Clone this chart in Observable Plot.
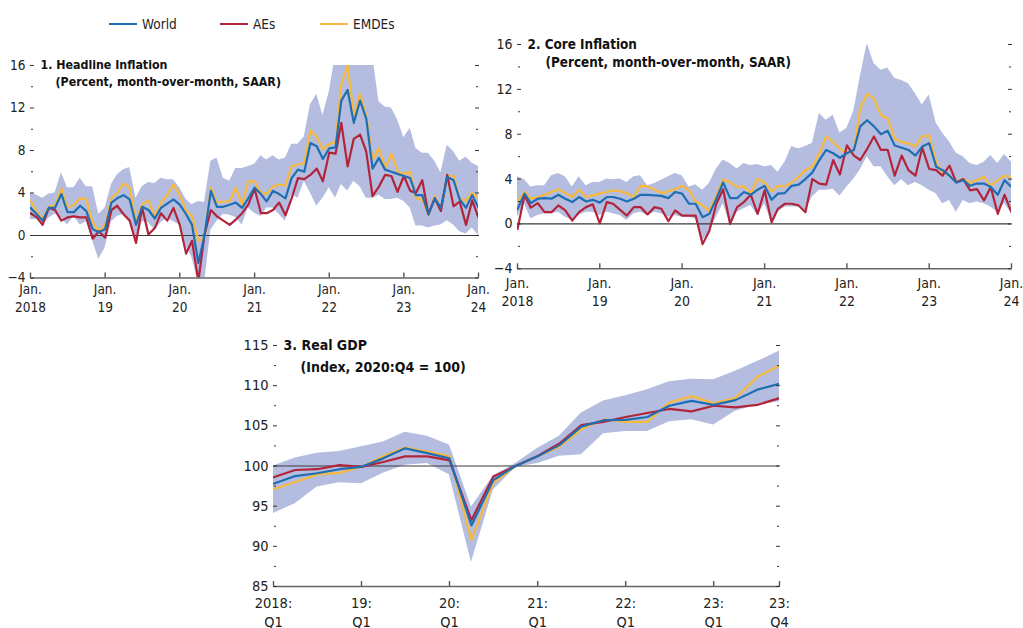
<!DOCTYPE html>
<html>
<head>
<meta charset="utf-8">
<script src="https://cdn.jsdelivr.net/npm/d3@7"></script>
<script src="https://cdn.jsdelivr.net/npm/@observablehq/plot@0.6"></script>
<style>
  html, body { margin: 0; padding: 0; background: #fff; }
  body { width: 1023px; height: 628px; overflow: hidden; position: relative;
         font-family: "Liberation Sans Narrow", "Arial Narrow", "DejaVu Sans Condensed", sans-serif; color: #222; }
  .panel { position: absolute; }
  .lg { position: absolute; top: 16px; display: flex; align-items: center; font-size: 13.5px; }
  .lg span.sw { display: inline-block; width: 28px; height: 2.5px; margin-right: 5px; }
</style>
</head>
<body>
<div class="lg" style="left:109px"><span class="sw" style="background:#1f6eb4"></span>World</div>
<div class="lg" style="left:220px"><span class="sw" style="background:#b3243a"></span>AEs</div>
<div class="lg" style="left:320px"><span class="sw" style="background:#f6b93b"></span>EMDEs</div>
<div id="p1" class="panel" style="left:0px;top:40px"></div>
<div id="p2" class="panel" style="left:490px;top:20px"></div>
<div id="p3" class="panel" style="left:220px;top:320px"></div>
<script>
// ---------- DATA ----------
// Monthly, Jan 2018 .. Jan 2024 (73 points)
const headWorld = [
  2.6,2.0,1.4,2.6,2.6,3.9,2.2,2.2,2.8,2.3,0.6,0.3,
  0.6,3.1,3.5,3.8,3.4,1.0,2.7,2.4,1.6,2.6,3.0,3.4,
  2.9,2.0,1.0,-2.6,0.0,4.2,2.7,2.7,2.9,3.1,2.6,3.5,
  4.5,3.9,3.2,4.2,3.9,3.5,5.4,6.2,6.0,8.7,8.4,7.2,
  8.2,8.3,12.7,13.7,10.6,12.7,11.0,6.3,7.3,6.2,6.0,5.8,
  5.6,5.4,3.8,3.8,2.0,3.5,2.6,5.5,5.2,3.4,2.6,3.8,
  2.6];
const headAEs = [
  2.1,1.7,1.0,2.6,2.4,1.4,1.7,1.8,1.7,1.7,-0.3,0.4,
  -0.2,2.4,2.8,2.0,1.4,-0.7,2.6,0.1,0.7,2.1,1.4,2.6,
  1.0,-1.7,-0.5,-4.3,0.1,2.4,1.8,1.4,1.0,1.5,2.1,2.9,
  4.4,2.1,2.1,2.4,3.1,1.9,3.5,5.4,5.3,5.7,6.3,5.1,
  7.8,7.7,10.6,6.5,9.1,9.5,7.9,3.7,4.6,5.7,5.6,4.1,
  5.6,4.2,4.0,5.2,2.0,3.5,2.3,5.7,2.75,3.2,1.0,3.3,
  1.7];
const headEMDEs = [
  3.3,2.2,1.6,2.7,2.8,4.4,2.6,2.9,3.5,3.4,1.2,0.4,
  1.0,3.5,4.0,4.9,4.5,1.3,2.9,3.3,1.7,3.1,3.8,4.8,
  3.8,2.3,1.8,-0.5,-0.3,4.5,3.1,3.2,3.2,4.5,2.9,5.1,
  5.1,4.0,3.9,4.6,4.8,4.7,6.5,6.7,6.8,9.9,9.3,8.1,
  8.6,8.8,14.2,16.0,11.3,13.3,11.3,7.1,8.2,6.3,7.7,6.0,
  5.8,6.0,3.5,3.4,1.9,3.7,2.6,5.6,5.6,3.4,3.3,4.0,
  3.5];
const headLow = [
  1.5,1.5,1.0,1.65,2.0,1.65,1.0,1.8,1.0,1.3,-0.5,-2.25,
  -1.15,1.3,1.8,2.0,1.5,-0.9,1.3,1.2,0.5,1.2,1.65,1.3,
  1.0,-1.0,-2.1,-4.5,-4.5,0.5,1.35,2.0,1.9,1.7,1.0,2.6,
  2.1,1.8,2.6,2.6,2.0,1.35,3.85,3.5,5.1,4.0,2.75,3.5,
  4.5,3.5,4.8,4.2,5.1,4.6,3.5,3.5,3.8,3.4,3.4,3.5,
  3.2,2.6,0.9,0.9,0.7,0.9,1.0,1.4,1.0,0.35,0.15,0.7,
  0.0];
const headHigh = [
  4.0,3.8,3.5,3.9,4.0,5.9,4.5,4.5,5.4,4.6,4.6,2.0,
  2.6,4.8,5.7,6.2,6.4,3.5,4.6,5.0,4.9,5.4,5.25,5.25,
  4.5,3.4,2.9,3.2,3.1,7.0,7.3,5.4,5.1,6.3,6.3,6.5,
  6.7,7.5,7.1,7.5,7.1,7.3,8.6,8.6,9.3,12.3,13.3,11.3,
  13.5,17,17,17,17,16.5,17,17,12.6,12.1,12.0,10.9,
  9.2,10.1,8.2,7.75,7.75,7.0,5.9,8.5,7.9,7.0,7.4,6.8,
  6.5];

const coreWorld = [
  1.3,2.7,1.85,2.25,2.3,2.25,2.6,2.25,1.95,2.4,2.0,2.15,
  1.9,2.4,2.4,2.25,2.0,2.25,2.6,2.6,2.55,2.5,2.3,2.85,
  2.7,1.8,1.8,0.6,0.9,2.25,3.7,2.3,2.3,2.85,2.6,3.05,
  3.4,2.15,2.7,2.75,3.4,3.5,4.0,4.6,5.7,6.6,6.3,5.9,
  6.3,6.6,8.7,9.25,8.7,8.0,8.3,7.0,6.8,6.6,6.1,6.9,
  7.2,5.1,4.8,4.3,3.7,3.9,3.4,3.6,3.6,3.3,2.6,3.9,
  3.3];
const coreAEs = [
  -0.45,2.55,1.45,1.85,1.05,1.05,1.65,1.2,0.3,1.05,1.5,1.75,
  0.05,1.95,1.8,1.25,0.75,1.5,1.5,0.85,1.5,1.35,0.25,1.2,
  0.75,0.75,0.75,-1.8,-0.6,1.8,3.1,0.0,1.5,1.95,2.6,0.9,
  3.0,0.15,1.35,1.8,1.8,1.65,1.05,4.0,3.6,3.5,5.7,4.4,
  7.0,6.1,5.7,6.7,7.8,6.6,6.6,4.3,6.1,4.8,4.3,6.8,
  4.9,4.8,4.3,5.2,3.7,4.0,3.0,3.1,2.1,3.3,0.9,2.6,
  1.05];
const coreEMDEs = [
  1.95,2.85,2.25,2.4,2.6,2.85,3.1,2.75,2.4,3.05,2.4,2.55,
  2.7,2.85,3.0,2.9,2.75,2.4,3.4,3.35,3.05,2.75,2.9,3.1,
  3.4,3.0,2.0,1.65,1.15,2.55,3.95,3.7,3.3,3.35,2.75,4.0,
  3.7,2.9,3.4,3.35,3.7,4.2,4.8,5.1,6.3,7.8,7.3,6.7,
  6.3,6.6,10.3,11.6,11.2,9.7,9.4,7.6,7.3,7.2,6.9,7.8,
  7.9,5.5,4.6,4.3,3.8,4.0,3.7,3.9,4.2,3.4,3.9,4.3,
  4.2];
const coreLow = [
  0.6,1.8,0.45,0.75,0.9,0.9,1.05,0.6,0.3,0.75,1.05,1.05,
  0.75,1.05,0.9,0.75,0.3,0.9,1.05,0.75,1.05,0.9,0.6,0.75,
  0.6,0.6,0.45,-1.5,-0.75,0.6,1.8,0.0,1.05,1.35,1.65,0.75,
  1.8,0.15,1.05,1.5,1.5,1.5,1.2,2.4,3.0,3.0,3.1,2.5,
  3.3,4.0,4.8,6.0,5.1,5.1,4.2,3.4,3.95,3.4,3.7,3.4,
  3.0,2.7,1.8,2.1,1.05,2.1,1.8,1.95,1.8,1.5,1.05,1.8,
  0.9];
const coreHigh = [
  4.2,3.95,3.3,3.4,3.4,4.3,4.5,4.2,3.3,4.2,3.4,3.7,
  3.7,4.0,3.95,4.0,3.7,4.2,4.3,3.4,3.6,3.9,4.2,4.5,
  4.3,3.3,3.5,3.0,3.6,4.9,5.7,5.4,4.9,5.4,5.2,5.3,
  5.1,5.2,4.6,5.5,6.9,6.7,6.9,7.2,9.85,9.25,9.7,8.1,
  8.5,10.1,13.1,16.1,14.3,13.7,13.9,13.0,12.8,12.5,11.6,10.6,
  11.5,9.0,8.1,7.3,6.3,6.0,5.4,5.2,5.5,6.1,5.4,6.2,
  5.5];

// Quarterly, 2018:Q1 .. 2023:Q4 (24 points)
const gdpWorld = [97.8,98.75,99.1,99.6, 99.9,100.95,102.2,101.6, 100.95,92.6,98.25,100,
                  101.2,102.6,104.9,105.7, 105.75,106.1,107.5,108.1, 107.6,108.2,109.5,110.25];
const gdpAEs   = [98.6,99.5,99.6,100.1, 99.9,100.5,101.2,101.2, 100.7,93.25,98.7,100,
                  101.25,102.8,105.1,105.5, 106.1,106.6,107.1,106.8, 107.5,107.3,107.6,108.45];
const gdpEMDEs = [97.1,98.0,98.95,99.15, 99.9,101.2,102.3,101.8, 101.2,90.8,97.9,100,
                  101.2,102.4,104.6,105.8, 105.5,105.5,107.9,108.7, 107.8,108.45,111.1,112.5];
const gdpLow   = [94.1,95.3,97.4,97.9, 97.8,99.1,100.1,100.3, 98.9,88.0,97.0,99.8,
                  100.3,101.2,101.4,104.0, 104.3,104.3,105.5,105.75, 105.1,106.8,107.6,108.0];
const gdpHigh  = [100,101.0,101.6,101.8, 102.4,103.0,104.2,103.7, 102.6,94.9,98.75,100.3,
                  102.2,103.7,106.6,108.1, 108.75,109.5,110.5,110.8, 110.75,111.8,113.0,114.3];

const monthTickLabels = ["Jan.\n2018","Jan.\n19","Jan.\n20","Jan.\n21","Jan.\n22","Jan.\n23","Jan.\n24"];
const quarterTickLabels = ["2018:\nQ1","19:\nQ1","20:\nQ1","21:\nQ1","22:\nQ1","23:\nQ1","23:\nQ4"];
const inflMajor = [-4,0,4,8,12,16];
const inflMinor = [-2,2,6,10,14];
const gdpMajor = [85,90,95,100,105,110,115];
const gdpMinor = [87.5,92.5,97.5,102.5,107.5,112.5];

// ---------- STYLE ----------
const BLUE = "#1f6eb4", RED = "#b3243a", YEL = "#f6b93b", BAND = "#b4bde0";
const FONT = '"Liberation Sans Narrow","Arial Narrow","DejaVu Sans Condensed",sans-serif';

const months = d3.utcMonth.range(new Date(Date.UTC(2018,0,1)), new Date(Date.UTC(2024,1,1)));
const quarters = d3.utcMonth.every(3).range(new Date(Date.UTC(2018,0,1)), new Date(Date.UTC(2024,0,1)));
const monthTicks = months.filter(d => d.getUTCMonth() === 0);
const quarterTicks = quarters.filter(d => d.getUTCMonth() === 0).concat([quarters[quarters.length-1]]);

function fmtNum(d) { return d < 0 ? "\u2212" + (-d) : String(d); }

function panel(cfg) {
  const rows = cfg.dates.map((date, i) => ({
    date, world: cfg.world[i], aes: cfg.aes[i], emdes: cfg.emdes[i], lo: cfg.lo[i], hi: cfg.hi[i]
  }));
  const ticks = cfg.xTicks;
  const labelOf = new Map(ticks.map((d, i) => [+d, cfg.xLabels[i]]));
  return Plot.plot({
    width: cfg.width, height: cfg.height,
    marginLeft: cfg.ml, marginRight: cfg.mr, marginTop: cfg.mt, marginBottom: cfg.mb,
    style: { fontFamily: FONT, fontSize: "14px", color: "#222", background: "transparent", overflow: "visible" },
    x: { type: "utc", domain: [cfg.dates[0], cfg.dates[cfg.dates.length - 1]] },
    y: { domain: cfg.yDomain },
    marks: [
      Plot.areaY(rows, { x: "date", y1: "lo", y2: "hi", fill: BAND, clip: true }),
      Plot.ruleY([cfg.ref], { stroke: "#3a3a3a", strokeWidth: 1.2 }),
      Plot.line(rows, { x: "date", y: "emdes", stroke: YEL, strokeWidth: 2.2, clip: true }),
      Plot.line(rows, { x: "date", y: "aes", stroke: RED, strokeWidth: 2.2, clip: true }),
      Plot.line(rows, { x: "date", y: "world", stroke: BLUE, strokeWidth: 2.2, clip: true }),
      // bottom axis line
      Plot.ruleY([cfg.yDomain[0]], { stroke: "#666", strokeWidth: 1.6 }),
      // left tick labels
      Plot.axisY({ anchor: "left", ticks: cfg.major, tickSize: 0, tickPadding: 5, tickFormat: fmtNum, label: null, fontSize: cfg.tickFs }),
      // inner ticks, left and right
      Plot.axisY({ anchor: "left", ticks: cfg.major, tickSize: 4, insetLeft: 4, fill: "none", stroke: "#333", label: null }),
      Plot.axisY({ anchor: "left", ticks: cfg.minor, tickSize: 2, insetLeft: 3, fill: "none", stroke: "#333", label: null }),
      Plot.axisY({ anchor: "right", ticks: cfg.major, tickSize: 4, insetRight: 4, fill: "none", stroke: "#333", label: null }),
      Plot.axisY({ anchor: "right", ticks: cfg.minor, tickSize: 2, insetRight: 3, fill: "none", stroke: "#333", label: null }),
      // bottom axis
      Plot.axisX({ anchor: "bottom", ticks, tickSize: 5, insetBottom: 5, fill: "none", stroke: "#555", strokeWidth: 1.4, label: null }),
      Plot.axisX({ anchor: "bottom", ticks, tickSize: 0, tickPadding: cfg.xPad, lineHeight: 1.3,
                   tickFormat: d => labelOf.get(+d), label: null, fontSize: cfg.tickFs }),
      // panel titles
      Plot.text([cfg.title], { frameAnchor: "top-left", lineAnchor: "middle", dx: 10, dy: 0, textAnchor: "start",
                               fontWeight: "bold", fontSize: cfg.titleFs, fill: "#111" }),
      Plot.text([cfg.subtitle], { frameAnchor: "top-left", lineAnchor: "middle", dx: cfg.subDx, dy: cfg.subDy, textAnchor: "start",
                                  fontWeight: "bold", fontSize: cfg.titleFs, fill: "#111" })
    ]
  });
}

document.getElementById("p1").append(panel({
  dates: months, world: headWorld, aes: headAEs, emdes: headEMDEs, lo: headLow, hi: headHigh,
  width: 500, height: 290, ml: 30, mr: 22, mt: 25, mb: 52.5,
  yDomain: [-4, 16], ref: 0, major: inflMajor, minor: inflMinor,
  xTicks: monthTicks, xLabels: monthTickLabels, xPad: 4, tickFs: 13.5, titleFs: 12.3,
  title: "1. Headline Inflation", subtitle: "(Percent, month-over-month, SAAR)", subDx: 25, subDy: 17
}));
document.getElementById("p2").append(panel({
  dates: months, world: coreWorld, aes: coreAEs, emdes: coreEMDEs, lo: coreLow, hi: coreHigh,
  width: 533, height: 300, ml: 27, mr: 12, mt: 24, mb: 51.7,
  yDomain: [-4, 16], ref: 0, major: inflMajor, minor: inflMinor,
  xTicks: monthTicks, xLabels: monthTickLabels, xPad: 6, tickFs: 14, titleFs: 13.4,
  title: "2. Core Inflation", subtitle: "(Percent, month-over-month, SAAR)", subDx: 28, subDy: 18
}));
document.getElementById("p3").append(panel({
  dates: quarters, world: gdpWorld, aes: gdpAEs, emdes: gdpEMDEs, lo: gdpLow, hi: gdpHigh,
  width: 590, height: 308, ml: 53, mr: 31, mt: 25, mb: 42,
  yDomain: [85, 115], ref: 100, major: gdpMajor, minor: gdpMinor,
  xTicks: quarterTicks, xLabels: quarterTickLabels, xPad: 8, tickFs: 14.5, titleFs: 14,
  title: "3. Real GDP", subtitle: "(Index, 2020:Q4 = 100)", subDx: 27, subDy: 22
}));
</script>
</body>
</html>
